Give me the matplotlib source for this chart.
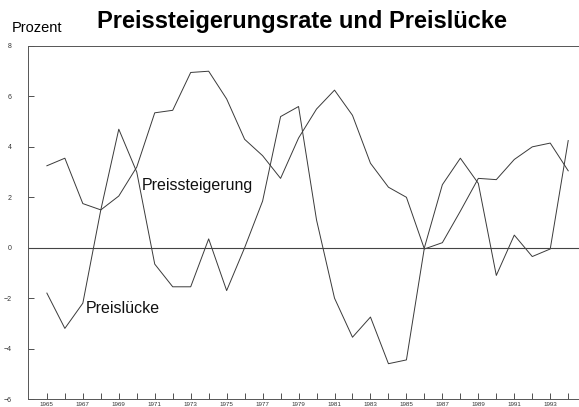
import matplotlib
matplotlib.use("Agg")
import matplotlib.pyplot as plt

years = list(range(1965, 1995))
preissteigerung = [3.25, 3.55, 1.75, 1.5, 2.05, 3.2, 5.35, 5.45, 6.95, 7.0,
                   5.9, 4.3, 3.65, 2.75, 4.35, 5.5, 6.25, 5.25, 3.35, 2.4,
                   2.0, -0.05, 0.2, 1.45, 2.75, 2.7, 3.5, 4.0, 4.15, 3.05]
preisluecke = [-1.8, -3.2, -2.2, 1.5, 4.7, 3.0, -0.65, -1.55, -1.55, 0.35,
               -1.7, 0.0, 1.85, 5.2, 5.6, 1.1, -2.0, -3.55, -2.75, -4.6,
               -4.45, 0.0, 2.5, 3.55, 2.55, -1.1, 0.5, -0.35, -0.05, 4.25]
xtick_years = list(range(1965, 1995, 2))
yticks = [-6, -4, -2, 0, 2, 4, 6, 8]

plt.rcParams["font.family"] = ["Liberation Sans", "DejaVu Sans"]

fig = plt.figure(figsize=(5.79, 4.07), dpi=100)
ax = fig.add_axes([28 / 579, 8 / 407, 551 / 579, (399 - 46) / 407])

line_col = "#3a3a3a"
ax.plot(years, preissteigerung, color=line_col, linewidth=0.7)
ax.plot(years, preisluecke, color=line_col, linewidth=0.7)
ax.axhline(0, color="#444444", linewidth=0.8)

ax.set_xlim(1963.95, 1994.6)
ax.set_ylim(-6, 8)
ax.set_xticks(years, minor=True)
ax.set_xticks(xtick_years)
ax.set_xticklabels([str(y) for y in xtick_years], fontsize=4.5)
ax.set_yticks(yticks)
ax.set_yticklabels([str(v) if v >= 0 else "\u2212" + str(-v) for v in yticks], fontsize=5)
ax.tick_params(axis="x", which="both", direction="in", length=4, width=0.6,
               colors="#333333", pad=2)
ax.tick_params(axis="y", direction="in", length=4, width=0.6,
               colors="#333333", pad=12)

for side in ("left", "top", "bottom"):
    ax.spines[side].set_linewidth(0.7)
    ax.spines[side].set_color("#555555")
ax.spines["right"].set_visible(False)

ax.text(1970.3, 2.45, "Preissteigerung", fontsize=11.5, color="#111111",
        va="center", ha="left")
ax.text(1967.15, -2.4, "Preislücke", fontsize=11.5, color="#111111",
        va="center", ha="left")

fig.text(12 / 579, 1 - 32 / 407, "Prozent", fontsize=10.5,
         va="baseline", ha="left")
fig.text(302 / 579, 1 - 28 / 407, "Preissteigerungsrate und Preislücke",
         fontsize=17, fontweight="bold", va="baseline", ha="center")

fig.savefig("out.png", dpi=100)
